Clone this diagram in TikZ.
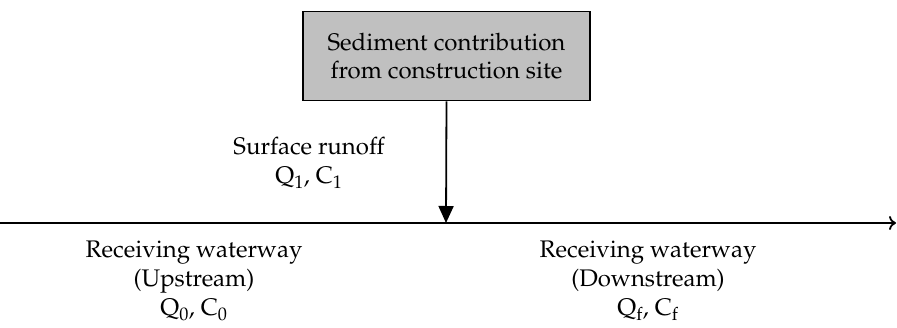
\documentclass[tikz,border=0pt]{standalone}
\usepackage[T1]{fontenc}
\usepackage{mathpazo}
\usepackage{xcolor}
\usepackage{tikz}
\usetikzlibrary{arrows.meta}
\definecolor{sitegray}{HTML}{C0C0C0}
\tikzset{
  sitebox/.style={draw,line width=1.6pt,fill=sitegray,minimum width=287pt,minimum height=89pt,align=center,font=\fontsize{24}{28}\selectfont},
  flowlabel/.style={align=center,font=\fontsize{24}{29}\selectfont},
}
\begin{document}
\begin{tikzpicture}[x=1pt,y=-1pt]
\useasboundingbox (0,0) rectangle (897,327);
\node[sitebox] (site) at (446.5,56) {Sediment contribution\\from construction site};
\coordinate (west) at (0,223); \coordinate (east) at (896,223);
\coordinate (inflow) at (446,223);
\draw[line width=1.8pt,-{To[length=7pt,width=14pt]}] (west) -- (east);
\draw[line width=1.8pt,-{Triangle[length=17pt,width=15pt]}] (site.south) -- (inflow);
\node[flowlabel] (runoff) at (309,163) {Surface runoff\\Q\textsubscript{1}, C\textsubscript{1}};
\node[flowlabel] (upstream) at (194,281) {Receiving waterway\\(Upstream)\\Q\textsubscript{0}, C\textsubscript{0}};
\node[flowlabel] (downstream) at (648,281) {Receiving waterway\\(Downstream)\\Q\textsubscript{f}, C\textsubscript{f}};
\end{tikzpicture}
\end{document}
